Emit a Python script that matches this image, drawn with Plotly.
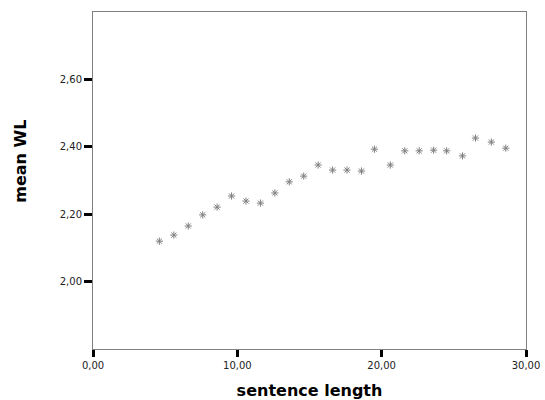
import plotly.graph_objects as go

sentence_length = [4.6, 5.6, 6.6, 7.6, 8.6, 9.6, 10.6, 11.6, 12.6, 13.6, 14.6, 15.6, 16.6,
                   17.6, 18.6, 19.5, 20.6, 21.6, 22.6, 23.6, 24.5, 25.6, 26.5, 27.6, 28.6]
mean_wl = [2.120, 2.138, 2.165, 2.198, 2.221, 2.254, 2.239, 2.233, 2.263, 2.296, 2.313, 2.346, 2.331,
           2.331, 2.328, 2.393, 2.346, 2.388, 2.388, 2.390, 2.388, 2.373, 2.426, 2.414, 2.396]
x_ticks = [0, 10, 20, 30]
y_ticks = [2.0, 2.2, 2.4, 2.6]

fig = go.Figure(go.Scatter(
    x=sentence_length, y=mean_wl, mode="markers",
    marker=dict(symbol="asterisk-open", size=6, color="#808080",
                line=dict(color="#808080", width=1)),
))

tick_font = dict(family="DejaVu Sans", size=10, color="#222")
axis_common = dict(showline=True, linecolor="#808080", linewidth=1, mirror=True,
                   showgrid=False, zeroline=False, ticks="outside", automargin=False,
                   tickwidth=3, tickcolor="black", tickfont=tick_font)

fig.update_layout(
    width=545, height=400, paper_bgcolor="white", plot_bgcolor="white",
    margin=dict(l=93, r=19, t=12, b=51), separators=",.", showlegend=False,
    xaxis=dict(range=[0, 30], tickvals=x_ticks, tickformat=".2f", ticklen=7,
               title=dict(text="<b>sentence length</b>", standoff=14,
                          font=dict(family="DejaVu Sans", size=16, color="black")),
               **axis_common),
    yaxis=dict(range=[1.8, 2.8], tickvals=y_ticks, tickformat=".2f", ticklen=8,
               **axis_common),
    annotations=[dict(text="<b>mean WL</b>", textangle=-90, xref="paper", yref="paper",
                      x=-0.166, y=0.556, xanchor="center", yanchor="middle", showarrow=False,
                      font=dict(family="DejaVu Sans", size=16, color="black"))],
)

fig.write_html("out.html")
